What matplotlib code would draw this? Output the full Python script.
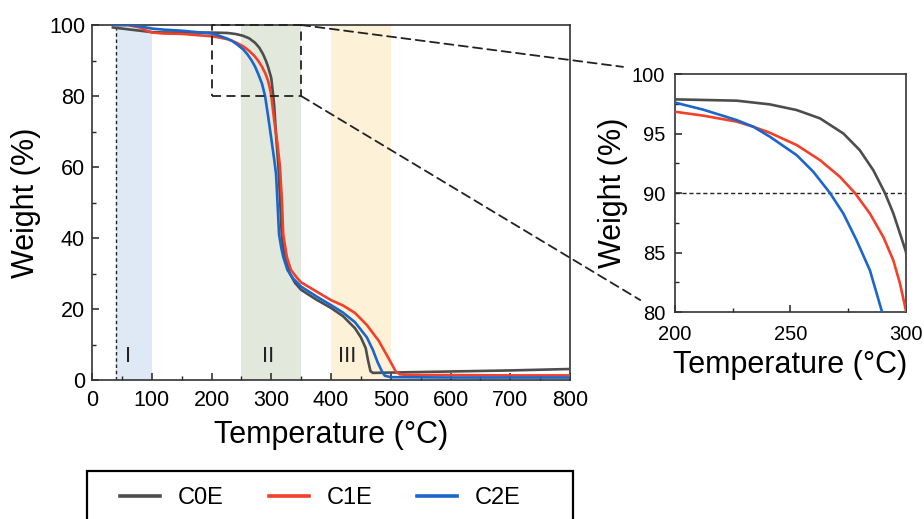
import numpy as np
import matplotlib.pyplot as plt
from matplotlib.patches import ConnectionPatch, Rectangle

plt.rcParams['font.family'] = ['Liberation Sans', 'DejaVu Sans']

# dados (temperatura em C, massa em %)
t_c0e = [35, 50, 70, 90, 100, 120, 150, 200, 226.7, 241, 252.7, 262.8, 272.9, 280,
         285.9, 290.9, 294.5, 297.4, 300, 303, 305, 308, 312, 315, 317.5, 320, 323,
         331, 340, 350, 375, 400, 420, 440, 450, 458, 462, 466, 470, 500, 600, 700, 800]
w_c0e = [99.3, 99.0, 98.6, 98.2, 98.0, 97.9, 97.9, 97.87, 97.76, 97.45, 96.97, 96.27,
         95.0, 93.6, 91.9, 90.0, 88.3, 86.6, 85.05, 80.5, 77.0, 69.0, 60.0, 50.0, 41.0,
         37.0, 34.7, 30.0, 27.3, 25.4, 22.7, 20.3, 18.0, 14.6, 12.0, 9.0, 5.5, 2.5, 2.0,
         2.1, 2.4, 2.7, 3.1]

t_c1e = [35, 60, 80, 90, 100, 120, 150, 200, 212.3, 226.7, 233.9, 241.1, 252.7, 262.8,
         271.4, 277.9, 284.4, 290.2, 294.5, 297.4, 300, 305, 310, 314.6, 318, 320, 326,
         333, 342, 350, 375, 400, 420, 440, 460, 480, 490, 500, 508, 515, 530, 600, 700,
         800]
w_c1e = [100.0, 100.0, 99.3, 98.5, 97.9, 97.6, 97.5, 96.83, 96.5, 96.0, 95.57, 95.06,
         94.03, 92.76, 91.36, 90.0, 88.27, 86.3, 84.35, 82.4, 80.1, 73.0, 67.0, 60.0,
         50.0, 41.0, 34.7, 31.0, 29.0, 27.5, 25.0, 22.5, 21.0, 18.9, 15.5, 11.0, 8.0,
         5.0, 2.5, 1.6, 1.4, 1.4, 1.3, 1.3]

t_c2e = [35, 60, 75, 90, 100, 120, 150, 200, 212.3, 226.7, 233.9, 241.1, 252.7, 259.9,
         267.1, 272.9, 278.6, 284.4, 289.5, 295, 300, 305, 308, 311, 313, 317, 320, 327,
         337, 350, 375, 400, 420, 440, 460, 470, 478, 485, 490, 500, 600, 700, 800]
w_c2e = [100.0, 100.0, 99.8, 99.3, 99.0, 98.7, 98.4, 97.6, 97.0, 96.13, 95.57, 94.73,
         93.18, 91.78, 90.0, 88.27, 86.03, 83.5, 80.1, 74.0, 68.0, 62.0, 58.0, 48.0,
         41.0, 37.0, 34.7, 31.0, 28.5, 26.3, 23.6, 21.1, 19.0, 16.3, 12.0, 8.5, 5.0,
         2.5, 1.2, 0.8, 0.7, 0.7, 0.7]

nomes = ['C0E', 'C1E', 'C2E']
cores = ['#4d4d4d', '#f2402a', '#1a66cc']

# regioes de degradacao
regioes = [(40, 100), (250, 350), (400, 500)]
cores_regioes = ['#dfe9f5', '#e2e9dc', '#fdf1d7']
rotulos_regioes = ['I', 'II', 'III']
pos_rotulos = [60, 295, 427]

series = [(t_c0e, w_c0e), (t_c1e, w_c1e), (t_c2e, w_c2e)]

fig = plt.figure(figsize=(9.24, 5.19), dpi=100)
ax = fig.add_axes([0.0996, 0.2678, 0.5173, 0.684])
axi = fig.add_axes([0.7305, 0.3988, 0.25, 0.4586])

for (a, b), c, r, xp in zip(regioes, cores_regioes, rotulos_regioes, pos_rotulos):
    ax.axvspan(a, b, color=c, lw=0, zorder=0)
    ax.text(xp, 6.5, r, fontsize=16, ha='center', va='center', color='#222222')

ax.plot([40, 40], [0, 100], ls=(0, (2.5, 2)), color='#222222', lw=1.0, zorder=1)

linhas = []
for (t, w), c, n in zip(series, cores, nomes):
    l, = ax.plot(t, w, color=c, lw=1.9, label=n, zorder=3)
    linhas.append(l)
    axi.plot(t, w, color=c, lw=1.9, zorder=3)

# retangulo da ampliacao
ax.plot([200, 350, 350, 200, 200], [80, 80, 100, 100, 80], ls=(0, (5, 3)),
        color='#222222', lw=1.3, zorder=4, clip_on=False)

ax.set_xlim(0, 800)
ax.set_ylim(0, 100)
ax.set_xticks(np.arange(0, 801, 100))
ax.set_xticks(np.arange(50, 800, 100), minor=True)
ax.set_yticks(np.arange(0, 101, 20))
ax.set_yticks(np.arange(10, 100, 20), minor=True)
ax.tick_params(direction='in', labelsize=15.5, length=5, width=1.1, colors='#222222',
               labelcolor='black')
ax.tick_params(axis='x', pad=7)
ax.tick_params(axis='y', pad=5)
ax.tick_params(which='minor', direction='in', length=3, width=1.0, colors='#222222')
ax.set_xlabel('Temperature (°C)', fontsize=22, labelpad=7)
ax.set_ylabel('Weight (%)', fontsize=22, labelpad=6)

axi.axhline(90, ls=(0, (3, 2)), color='#222222', lw=1.0, zorder=2)
axi.set_xlim(200, 300)
axi.set_ylim(80, 100)
axi.set_xticks([200, 250, 300])
axi.set_xticks([225, 275], minor=True)
axi.set_yticks(np.arange(80, 101, 5))
axi.set_yticks(np.arange(82.5, 100, 5), minor=True)
axi.tick_params(direction='in', labelsize=14.5, length=5, width=1.1, colors='#222222',
                labelcolor='black')
axi.tick_params(axis='x', pad=9)
axi.tick_params(axis='y', pad=7)
axi.tick_params(which='minor', direction='in', length=3, width=1.0, colors='#222222')
axi.set_xlabel('Temperature (°C)', fontsize=22, labelpad=5)
axi.set_ylabel('Weight (%)', fontsize=22, labelpad=3)

for a_ in (ax, axi):
    for s in a_.spines.values():
        s.set_color('#333333')
        s.set_linewidth(1.2)

# linhas ligando a ampliacao
for yA, xyB in [(100, (-0.225, 1.03)), (80, (-0.15, 0.05))]:
    con = ConnectionPatch(xyA=(350, yA), coordsA=ax.transData,
                          xyB=xyB, coordsB=axi.transAxes,
                          ls=(0, (5, 3)), color='#222222', lw=1.3)
    fig.add_artist(con)

# legenda com moldura propria (cortada embaixo como no original)
fig.add_artist(Rectangle((87 / 924, -0.2), 486 / 924, 0.2 + 48 / 519,
                         transform=fig.transFigure, fill=False, lw=1.6,
                         ec='black', clip_on=False))
leg = fig.legend(handles=linhas, loc='center left', ncol=3,
                 bbox_to_anchor=(120 / 924, 1 - 498 / 519), borderaxespad=0,
                 fontsize=17, frameon=False, borderpad=0,
                 handlelength=1.7, handletextpad=0.75, columnspacing=1.9)
for l in leg.get_lines():
    l.set_linewidth(2.6)

fig.savefig('out.png', dpi=100)
